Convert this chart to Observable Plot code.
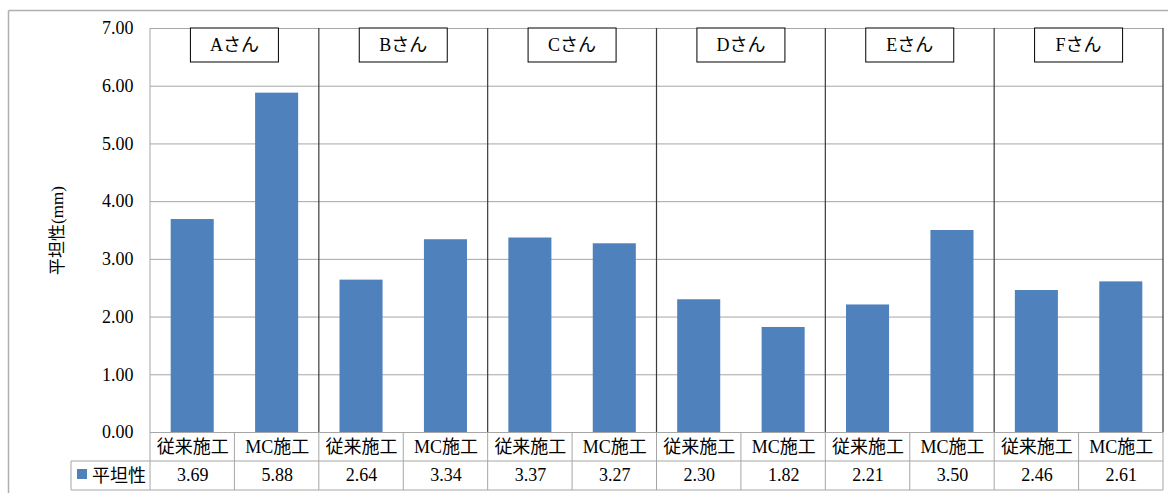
<!DOCTYPE html>
<html>
<head>
<meta charset="utf-8">
<script src="https://cdn.jsdelivr.net/npm/d3@7"></script>
<script src="https://cdn.jsdelivr.net/npm/@observablehq/plot@0.6"></script>
<style>
  html, body { margin: 0; padding: 0; background: #fff; }
  #chart svg { display: block; }
</style>
</head>
<body>
<div id="chart"></div>
<script>
// Flatness (平坦性) per operator: conventional vs machine-control construction
const persons = ["Aさん", "Bさん", "Cさん", "Dさん", "Eさん", "Fさん"];
const methods = ["従来施工", "MC施工"];
const flatness = [3.69, 5.88, 2.64, 3.34, 3.37, 3.27, 2.30, 1.82, 2.21, 3.50, 2.46, 2.61];
const yTicks = [0, 1, 2, 3, 4, 5, 6, 7];
const seriesName = "平坦性";
const yLabel = "平坦性(mm)";

const barColor = "#4F81BD";
const gridColor = "#a6a6a6";
const font = "Liberation Serif, Times New Roman, DejaVu Serif, Noto Sans CJK JP, serif";

const rows = persons.flatMap((p, i) =>
  methods.map((m, j) => ({ key: `${p}|${m}`, person: p, method: m, value: flatness[i * 2 + j] }))
);
const keys = rows.map(d => d.key);
const fmt = d3.format(".2f");

const plot = Plot.plot({
  width: 1168,
  height: 493,
  marginLeft: 150,
  marginRight: 5,
  marginTop: 28,
  marginBottom: 61,
  style: { fontFamily: font, fontSize: "18px", color: "#000", background: "#fff", overflow: "visible" },
  x: { domain: keys, paddingInner: 0.49, paddingOuter: 0.245, round: false, axis: null },
  y: { domain: [0, 7] },
  marks: [
    Plot.gridY(yTicks, { stroke: gridColor, strokeOpacity: 1, strokeWidth: 1 }),
    Plot.barY(rows, { x: "key", y: "value", fill: barColor }),
    Plot.axisY(yTicks, { tickSize: 0, tickPadding: 17, tickFormat: fmt, fontSize: 18, fontFamily: font, label: null }),
    // data table: category row and value row
    Plot.text(rows, { x: "key", text: "method", frameAnchor: "bottom", lineAnchor: "middle", dy: 15, fontSize: 18, fontFamily: font }),
    Plot.text(rows, { x: "key", text: d => fmt(d.value), frameAnchor: "bottom", lineAnchor: "middle", dy: 43, fontSize: 18, fontFamily: font }),
    // y axis title
    Plot.text([yLabel], { frameAnchor: "left", textAnchor: "middle", lineAnchor: "middle", dx: -93, rotate: -90, fontSize: 17, fontFamily: font })
  ]
});

document.getElementById("chart").appendChild(plot);

// Table grid, panel separators, panel labels and legend, positioned from Plot's scales
const xs = plot.scale("x");
const ys = plot.scale("y");
const step = xs.apply(keys[1]) - xs.apply(keys[0]);
const bw = xs.bandwidth != null ? xs.bandwidth : step * 0.51;
const bandLeft = k => xs.apply(k) - (step - bw) / 2;
const plotLeft = xs.range[0];
const plotRight = xs.range[1];
const plotTop = ys.apply(7);
const plotBase = ys.apply(0);
const rowH = 29;
const legendLeft = 71;

const svg = d3.select(plot);
const g = svg.append("g").attr("text-anchor", "start").style("font-family", font);

// outer chart border
g.append("line").attr("x1", 8.5).attr("x2", 8.5).attr("y1", 10.5).attr("y2", 493)
  .attr("stroke", "#b0b0b0").attr("stroke-width", 1.5);
g.append("line").attr("x1", 8.5).attr("x2", 1168).attr("y1", 10.5).attr("y2", 10.5)
  .attr("stroke", "#b0b0b0").attr("stroke-width", 1.5);

// table horizontal lines
[1, 2].forEach(r => {
  g.append("line").attr("x1", legendLeft).attr("x2", plotRight)
    .attr("y1", plotBase + r * rowH).attr("y2", plotBase + r * rowH)
    .attr("stroke", gridColor);
});
// legend cell left edge
g.append("line").attr("x1", legendLeft).attr("x2", legendLeft).attr("y1", plotBase + rowH).attr("y2", plotBase + 2 * rowH)
  .attr("stroke", gridColor);
// value axis line (down through the table)
g.append("line").attr("x1", plotLeft).attr("x2", plotLeft).attr("y1", plotTop).attr("y2", plotBase + 2 * rowH)
  .attr("stroke", gridColor);
// table vertical lines at each band boundary
keys.slice(1).forEach(k => {
  const x = bandLeft(k);
  g.append("line").attr("x1", x).attr("x2", x).attr("y1", plotBase).attr("y2", plotBase + 2 * rowH)
    .attr("stroke", gridColor);
});
g.append("line").attr("x1", plotRight).attr("x2", plotRight).attr("y1", plotBase).attr("y2", plotBase + 2 * rowH)
  .attr("stroke", gridColor);

// panel separators (dark) inside the plot area
persons.forEach((p, i) => {
  if (i === 0) return;
  const x = bandLeft(`${p}|${methods[0]}`);
  g.append("line").attr("x1", x).attr("x2", x).attr("y1", plotTop).attr("y2", plotBase)
    .attr("stroke", "#3a3a3a").attr("stroke-width", 1.2);
});
g.append("line").attr("x1", plotRight).attr("x2", plotRight).attr("y1", plotTop).attr("y2", plotBase)
  .attr("stroke", "#3a3a3a").attr("stroke-width", 1.2);

// panel label boxes
persons.forEach(p => {
  const cx = bandLeft(`${p}|${methods[0]}`) + step;
  g.append("rect").attr("x", cx - 44).attr("y", plotTop).attr("width", 88).attr("height", 34)
    .attr("fill", "#fff").attr("stroke", "#000").attr("stroke-width", 1);
  g.append("text").attr("x", cx).attr("y", plotTop + 17).attr("dy", "0.35em")
    .attr("text-anchor", "middle").attr("font-size", 18)
    .attr("fill", "#000").text(p);
});

// legend key in the table
g.append("rect").attr("x", 77).attr("y", plotBase + rowH + 8).attr("width", 10).attr("height", 10)
  .attr("fill", barColor);
g.append("text").attr("x", 92).attr("y", plotBase + rowH + 14.5).attr("dy", "0.35em")
  .attr("text-anchor", "start").attr("font-size", 18).attr("fill", "#000").text(seriesName);
</script>
</body>
</html>
